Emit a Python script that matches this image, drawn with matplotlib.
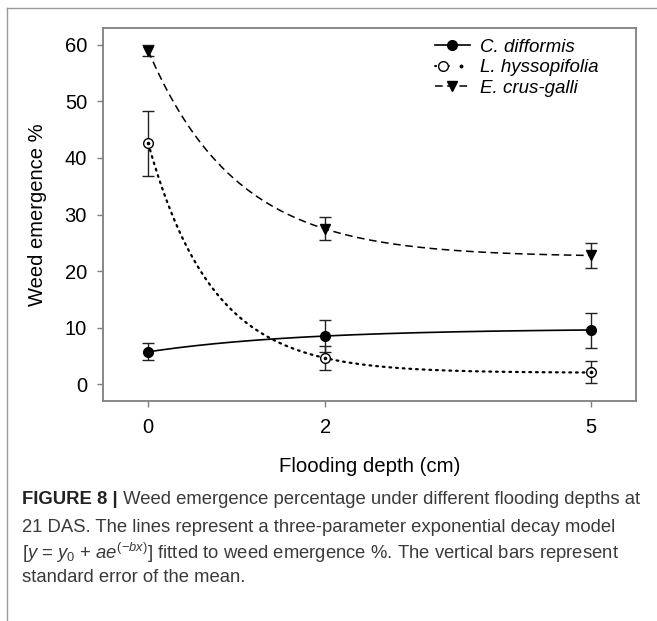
import matplotlib
matplotlib.use("Agg")
import matplotlib.pyplot as plt
from matplotlib.lines import Line2D
from matplotlib.legend_handler import HandlerTuple
import numpy as np

plt.rcParams['font.family'] = ['Liberation Sans', 'DejaVu Sans']
plt.rcParams['mathtext.fontset'] = 'custom'
plt.rcParams['mathtext.rm'] = 'Liberation Sans'
plt.rcParams['mathtext.it'] = 'Liberation Sans:italic'

# flooding depth (cm)
depth = [0, 2, 5]

# means and standard errors
cdiff_mean = [5.7, 8.5, 9.5]
cdiff_se = [1.5, 2.8, 3.1]
lhys_mean = [42.6, 4.6, 2.1]
lhys_se = [5.7, 2.1, 2.0]
ecrus_mean = [59.0, 27.5, 22.8]
ecrus_se = [1.0, 2.0, 2.2]

# three-parameter exponential decay fits: y0, a, b
cdiff_fit = [9.8, -4.1, 0.574]
lhys_fit = [2.0, 40.6, 1.374]
ecrus_fit = [22.5, 36.5, 1.0]

labels = ['C. difformis', 'L. hyssopifolia', 'E. crus-galli']
grey = '#7f7f7f'
dots = (0, (0.8, 2.2))
dashes = (0, (5, 3))

fig = plt.figure(figsize=(6.57, 6.21), dpi=100)
ax = fig.add_axes([103/657, 1-401/621, (636-103)/657, (401-28)/621])

xx = np.linspace(0, 5, 300)
def model(p, x):
    return p[0] + p[1]*np.exp(-p[2]*x)

# error bars
for m, s in [(cdiff_mean, cdiff_se), (lhys_mean, lhys_se), (ecrus_mean, ecrus_se)]:
    ax.errorbar(depth, m, yerr=s, fmt='none', ecolor='#222222', elinewidth=1.0,
                capsize=4, capthick=1.0, zorder=2)

# fitted curves
ax.plot(xx, model(cdiff_fit, xx), color='black', lw=1.2, zorder=3)
ax.plot(xx, model(lhys_fit, xx), color='black', lw=1.6, linestyle=dots,
        dash_capstyle='round', zorder=3)
ax.plot(xx, model(ecrus_fit, xx), color='black', lw=1.1, linestyle=dashes, zorder=3)

# points
ax.plot(depth, cdiff_mean, 'o', color='black', ms=7, zorder=4)
ax.plot(depth, lhys_mean, 'o', mfc='white', mec='black', mew=1.0, ms=7, zorder=4)
ax.plot(depth, lhys_mean, 'o', color='black', ms=1.6, zorder=5)
ax.plot(depth, ecrus_mean, 'v', color='black', ms=7.5, zorder=4)

ax.set_xlim(-0.51, 5.51)
ax.set_ylim(-3, 63)
ax.set_xticks(depth)
ax.set_xticklabels(['0', '2', '5'])
ax.set_yticks([0, 10, 20, 30, 40, 50, 60])
ax.tick_params(direction='out', length=4.5, width=1, color=grey, labelsize=14.5)
ax.tick_params(axis='y', pad=7)
ax.tick_params(axis='x', pad=8)
for sp in ax.spines.values():
    sp.set_color(grey)
    sp.set_linewidth(1.3)

ax.set_xlabel('Flooding depth (cm)', fontsize=14.7, labelpad=14)
ax.set_ylabel('Weed emergence %', fontsize=14.5, labelpad=13)

# legend
h1 = Line2D([], [], color='black', lw=1.2, marker='o', ms=7)
h2a = Line2D([], [], color='black', lw=1.4, linestyle=(0, (0.6, 1.6)), marker='o',
             mfc='white', mec='black', ms=7, dash_capstyle='round')
h2b = Line2D([], [], color='black', linestyle='none', marker='o', ms=1.8)
h3 = Line2D([], [], color='black', lw=1.1, linestyle=dashes, marker='v', ms=7.5)
leg = ax.legend([h1, (h2a, h2b), h3], labels,
                handler_map={tuple: HandlerTuple(ndivide=None)},
                loc='upper left', bbox_to_anchor=(0.622, 0.972), frameon=False,
                borderaxespad=0, borderpad=0,
                fontsize=13.5, handlelength=1.9, labelspacing=0.18, handletextpad=0.5)
for t in leg.get_texts():
    t.set_style('italic')

# outer frame
fig.add_artist(Line2D([7/657, 7/657], [0, 1-8/621], color='#9a9a9a', lw=1.0))
fig.add_artist(Line2D([7/657, 1], [1-8/621, 1-8/621], color='#9a9a9a', lw=1.0))

# caption
cap_col = '#3a3a3a'
cx = 22/657
fs = 13.3
t0 = fig.text(cx, 1-500/621, 'FIGURE 8 |', fontsize=fs, fontweight='bold',
              color='#222222', va='center')
ax.annotate(' Weed emergence percentage under different flooding depths at',
            xy=(1, 0.5), xycoords=t0, va='center', ha='left', fontsize=fs, color=cap_col,
            annotation_clip=False)
fig.text(cx, 1-527/621, '21 DAS. The lines represent a three-parameter exponential decay model',
         fontsize=fs, color=cap_col, va='center')
fig.text(cx, 1-553/621,
         r'[$y$ = $y_{0}$ + $ae^{(-bx)}$] fitted to weed emergence %. The vertical bars represent',
         fontsize=fs, color=cap_col, va='center')
fig.text(cx, 1-578/621, 'standard error of the mean.', fontsize=fs, color=cap_col, va='center')

fig.savefig('out.png', dpi=100)
